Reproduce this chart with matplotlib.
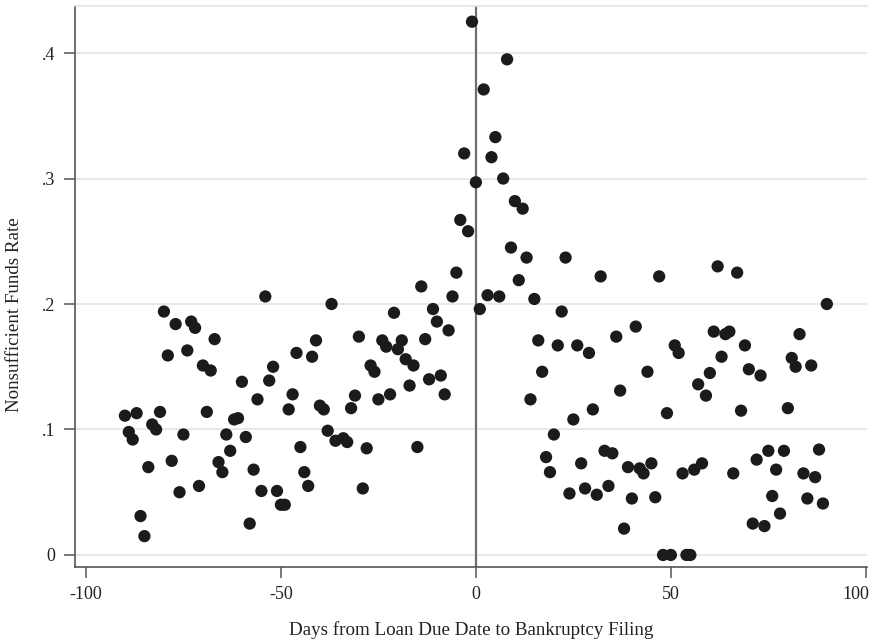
import matplotlib
matplotlib.use("Agg")
import matplotlib.pyplot as plt
from matplotlib.transforms import ScaledTranslation

days = [
    -80, -77, -73, -72, -67, -79, -74, -70, -68, -60, -90, -87, -81, -69, -89, -88, -83, -82,
    -75, -62, -61, -64, -59, -63, -84, -78, -66, -65, -57, -76, -71, -55, -86, -85, -58,
    -54, -37, -5, -14, -6, -11, -21, -10, -7, -13, 1, -41, -30, -46, -42, -52, -53, -56,
    -24, -23, -19, -20, -18, -16, -27, -26, -12, -9, -8, -17, -22, -25, -31, -32, -47, -48,
    -40, -39, -38, -36, -34, -33, -28, -15, -45, -44, -43, -51, -50, -49, -29,
    -1, 8, 2, 5, -3, 4, 0, 7, 10, 12, -4, -2, 9, 13, 23, 11, 3, 6, 15, 22,
    32, 47, 41, 36, 16, 21, 26, 29, 44, 17, 37, 14, 30, 49, 25, 20, 18, 19, 27, 33, 35,
    39, 42, 43, 45, 24, 28, 31, 34, 40, 46, 38, 48,
    62, 67, 90, 61, 64, 65, 69, 83, 51, 52, 63, 81, 82, 86, 60, 70, 73, 57, 59, 68, 80,
    53, 56, 58, 66, 72, 75, 79, 88, 77, 84, 87, 76, 85, 89, 78, 71, 74, 50, 54, 55,
]
nsf_rate = [
    0.194, 0.184, 0.186, 0.181, 0.172, 0.159, 0.163, 0.151, 0.147, 0.138, 0.111, 0.113, 0.114,
    0.114, 0.098, 0.092, 0.104, 0.100, 0.096, 0.108, 0.109, 0.096, 0.094, 0.083, 0.070, 0.075,
    0.074, 0.066, 0.068, 0.050, 0.055, 0.051, 0.031, 0.015, 0.025,
    0.206, 0.200, 0.225, 0.214, 0.206, 0.196, 0.193, 0.186, 0.179, 0.172, 0.196, 0.171, 0.174,
    0.161, 0.158, 0.150, 0.139, 0.124, 0.171, 0.166, 0.171, 0.164, 0.156, 0.151, 0.151, 0.146,
    0.140, 0.143, 0.128, 0.135, 0.128, 0.124, 0.127, 0.117, 0.128, 0.116, 0.119, 0.116, 0.099,
    0.091, 0.093, 0.090, 0.085, 0.086, 0.086, 0.066, 0.055, 0.051, 0.040, 0.040, 0.053,
    0.425, 0.395, 0.371, 0.333, 0.320, 0.317, 0.297, 0.300, 0.282, 0.276, 0.267, 0.258, 0.245,
    0.237, 0.237, 0.219, 0.207, 0.206, 0.204, 0.194,
    0.222, 0.222, 0.182, 0.174, 0.171, 0.167, 0.167, 0.161, 0.146, 0.146, 0.131, 0.124, 0.116,
    0.113, 0.108, 0.096, 0.078, 0.066, 0.073, 0.083, 0.081, 0.070, 0.069, 0.065, 0.073, 0.049,
    0.053, 0.048, 0.055, 0.045, 0.046, 0.021, 0.000,
    0.230, 0.225, 0.200, 0.178, 0.176, 0.178, 0.167, 0.176, 0.167, 0.161, 0.158, 0.157, 0.150,
    0.151, 0.145, 0.148, 0.143, 0.136, 0.127, 0.115, 0.117, 0.065, 0.068, 0.073, 0.065, 0.076,
    0.083, 0.083, 0.084, 0.068, 0.065, 0.062, 0.047, 0.045, 0.041, 0.033, 0.025, 0.023, 0.000,
    0.000, 0.000,
]

x_ticks = [-100, -50, 0, 50, 100]
x_tick_labels = ["-100", "-50", "0", "50", "100"]
y_ticks = [0, 0.1, 0.2, 0.3, 0.4]
y_tick_labels = ["0", ".1", ".2", ".3", ".4"]

plt.rcParams["font.family"] = ["Liberation Serif", "DejaVu Serif"]

W, H = 872, 642
fig = plt.figure(figsize=(W / 100, H / 100), dpi=100)
L, R, T, B = 75, 867, 6, 567
ax = fig.add_axes([L / W, 1 - B / H, (R - L) / W, (B - T) / H])

ax.scatter(days, nsf_rate, s=78, color="#1b1b1b", edgecolors="none", zorder=3)
ax.axvline(0, color="#6e6e6e", lw=1.6, zorder=2)

ax.set_xlim(-102.8, 100.3)
ax.set_ylim(-0.0096, 0.4375)
ax.set_xticks(x_ticks)
ax.set_xticklabels(x_tick_labels)
ax.set_yticks(y_ticks)
ax.set_yticklabels(y_tick_labels)

ax.grid(axis="y", color="#e4e4e4", lw=1.2, zorder=0)
ax.set_axisbelow(True)

for side in ("left", "bottom"):
    ax.spines[side].set_color("#555555")
    ax.spines[side].set_linewidth(1.2)
ax.spines["top"].set_color("#e4e4e4")
ax.spines["top"].set_linewidth(1.2)
ax.spines["right"].set_visible(False)

ax.tick_params(axis="both", direction="out", length=8, width=1.1, color="#555555",
               labelsize=13, labelcolor="#222222", pad=6)

# keep the last x tick label inside the figure, as in the reference
last = ax.get_xticklabels()[-1]
last.set_transform(last.get_transform() + ScaledTranslation(-0.10, 0, fig.dpi_scale_trans))

ax.set_xlabel("Days from Loan Due Date to Bankruptcy Filing", fontsize=13.7,
              color="#222222", labelpad=13)
ax.set_ylabel("Nonsufficient Funds Rate", fontsize=13.7, color="#222222")
ax.yaxis.set_label_coords(-0.066, 0.45)

fig.savefig("out.png", dpi=100)
